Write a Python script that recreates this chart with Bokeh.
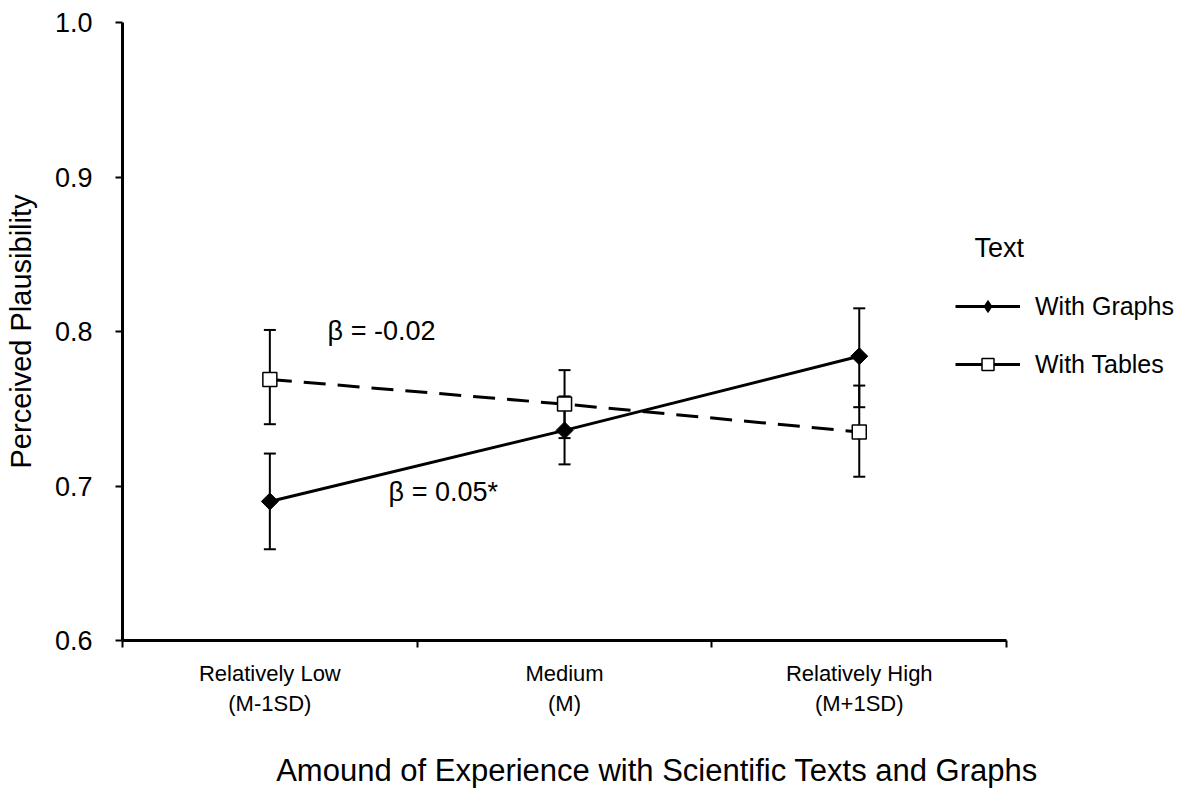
from bokeh.plotting import figure
from bokeh.models import (ColumnDataSource, Whisker, TeeHead, FixedTicker, PrintfTickFormatter,
                          Legend, LegendItem, Label, Range1d)
from bokeh.embed import file_html
from bokeh.resources import INLINE

# ---- data ----
categories = ["Relatively Low\n(M-1SD)", "Medium\n(M)", "Relatively High\n(M+1SD)"]
graphs_mean = [0.690, 0.736, 0.784]
graphs_lower = [0.659, 0.714, 0.751]
graphs_upper = [0.721, 0.758, 0.815]
tables_mean = [0.769, 0.753, 0.735]
tables_lower = [0.740, 0.731, 0.706]
tables_upper = [0.801, 0.775, 0.765]
y_ticks = [0.6, 0.7, 0.8, 0.9, 1.0]

FONT = "Liberation Sans"
xpos = [i + 0.5 for i in range(len(categories))]
n_cat = len(categories)

W, H = 1191, 801
LEFT, TOP, BOTTOM = 122, 22, 161
frame_w = W - LEFT
unit_px = 294.7
x_end = frame_w / unit_px

p = figure(width=W, height=H, output_backend="svg", toolbar_location=None,
           x_range=Range1d(0, x_end), y_range=Range1d(0.6, 1.0),
           min_border_left=LEFT, min_border_right=0, min_border_top=TOP,
           min_border_bottom=BOTTOM)
p.outline_line_color = None
p.grid.visible = False
p.background_fill_color = "white"

src_g = ColumnDataSource(dict(x=xpos, y=graphs_mean, lo=graphs_lower, hi=graphs_upper))
src_t = ColumnDataSource(dict(x=xpos, y=tables_mean, lo=tables_lower, hi=tables_upper))

for src in (src_g, src_t):
    w = Whisker(source=src, base="x", lower="lo", upper="hi", line_color="black", line_width=2,
                upper_head=TeeHead(size=12, line_width=2, line_color="black"),
                lower_head=TeeHead(size=12, line_width=2, line_color="black"))
    p.add_layout(w)

gl = p.line("x", "y", source=src_g, line_color="black", line_width=3)
tl = p.line("x", "y", source=src_t, line_color="black", line_width=3, line_dash="22 12")
gm = p.scatter("x", "y", source=src_g, marker="square", angle=0.785398, size=12,
               fill_color="black", line_color="black")
tm = p.scatter("x", "y", source=src_t, marker="square", size=14, fill_color="white",
               line_color="black", line_width=1.5)
# legend-only renderers (not shown in the plot)
g_leg_marker = p.scatter("x", "y", source=src_g, marker="diamond", size=14,
                         fill_color="black", line_color="black", visible=False)
t_leg_line = p.line("x", "y", source=src_t, line_color="black", line_width=3, visible=False)
t_leg_marker = p.scatter("x", "y", source=src_t, marker="square", size=14, fill_color="white",
                         line_color="black", line_width=1.5, visible=False)

# ---- axes ----
xa = p.xaxis[0]
xa.bounds = (0, n_cat)
xa.ticker = FixedTicker(ticks=xpos, minor_ticks=list(range(n_cat + 1)))
xa.major_label_overrides = {x: c for x, c in zip(xpos, categories)}
xa.major_tick_line_color = None
xa.minor_tick_in = 0
xa.minor_tick_out = 7
xa.minor_tick_line_width = 2
xa.axis_line_width = 3
xa.major_label_text_font = FONT
xa.major_label_text_font_size = "22px"
xa.major_label_text_color = "black"
xa.major_label_standoff = 13
xa.axis_label = "Amound of Experience with Scientific Texts and Graphs"
xa.axis_label_text_font = FONT
xa.axis_label_text_font_size = "31px"
xa.axis_label_text_font_style = "normal"
xa.axis_label_text_color = "black"
xa.axis_label_standoff = 34

ya = p.yaxis[0]
ya.ticker = FixedTicker(ticks=y_ticks)
ya.formatter = PrintfTickFormatter(format="%.1f")
ya.minor_tick_line_color = None
ya.major_tick_in = 0
ya.major_tick_out = 7
ya.major_tick_line_width = 2
ya.axis_line_width = 3
ya.major_label_text_font = FONT
ya.major_label_text_font_size = "27px"
ya.major_label_text_color = "black"
ya.major_label_standoff = 23
ya.axis_label = "Perceived Plausibility"
ya.axis_label_text_font = FONT
ya.axis_label_text_font_size = "29px"
ya.axis_label_text_font_style = "normal"
ya.axis_label_text_color = "black"
ya.axis_label_standoff = 15

# ---- annotations ----
p.add_layout(Label(x=0.696, y=0.8006, text="β = -0.02", text_font=FONT, text_font_size="27px",
                   text_baseline="middle", text_color="black"))
p.add_layout(Label(x=0.903, y=0.6958, text="β = 0.05*", text_font=FONT, text_font_size="27px",
                   text_baseline="middle", text_color="black"))
p.add_layout(Label(x=(974 - LEFT) / unit_px, y=0.6 + (640 - 247) / 1545.0, text="Text",
                   text_font=FONT, text_font_size="27px", text_baseline="middle",
                   text_color="black"))

legend = Legend(items=[LegendItem(label="With Graphs", renderers=[gl, g_leg_marker]),
                       LegendItem(label="With Tables", renderers=[t_leg_line, t_leg_marker])],
                location=(833, 261), padding=0, margin=0, spacing=28,
                glyph_width=65, glyph_height=30, label_height=30, label_standoff=15,
                label_text_font=FONT, label_text_font_size="25px", label_text_color="black",
                border_line_color=None, background_fill_alpha=0)
p.add_layout(legend)

open("out.html", "w").write(file_html(p, INLINE))
